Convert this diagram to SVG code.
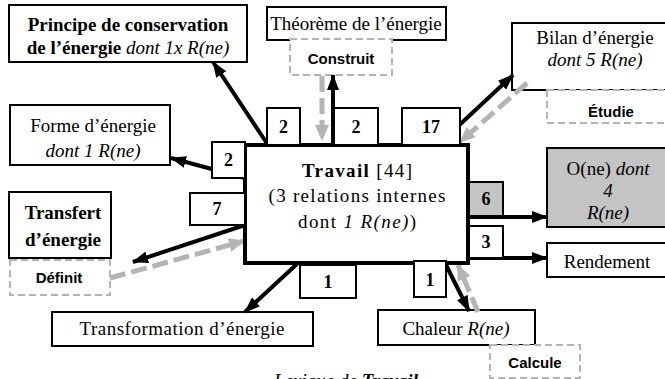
<svg xmlns="http://www.w3.org/2000/svg" width="665" height="379" viewBox="0 0 665 379">
<defs>
<style>
.box{fill:#fff;stroke:#000;stroke-width:2}
.gbox{fill:#c4c4c4;stroke:#000;stroke-width:2}
.dbox{fill:#fff;stroke:#b4b4b4;stroke-width:2;stroke-dasharray:7 4}
.main{fill:#fff;stroke:#000;stroke-width:4}
.t{font-family:"Liberation Serif","Times New Roman",serif;font-size:19px;fill:#000;text-anchor:middle}
.b{font-weight:bold}
.i{font-style:italic}
.num{font-family:"Liberation Serif","Times New Roman",serif;font-size:18px;font-weight:bold;fill:#000;text-anchor:middle}
.s{font-family:"Liberation Sans",Arial,sans-serif;font-size:15px;font-weight:bold;fill:#000;text-anchor:middle}
.k{fill:none;stroke:#000;stroke-width:4}
.g{fill:none;stroke:#b4b4b4;stroke-width:5;stroke-dasharray:16 6}
</style>
<marker id="ak" markerWidth="16" markerHeight="12" refX="15" refY="6" orient="auto" markerUnits="userSpaceOnUse"><path d="M0,0 L16,6 L0,12 z" fill="#000"/></marker>
<marker id="ag" markerWidth="16" markerHeight="14" refX="15" refY="7" orient="auto" markerUnits="userSpaceOnUse"><path d="M0,0 L16,7 L0,14 z" fill="#b4b4b4"/></marker>
</defs>
<rect width="665" height="379" fill="#fff"/>

<g id="principe"><rect class="box" x="9" y="5" width="238" height="57"/>
<text class="t b" x="128" y="31" font-size="18">Principe de conservation</text>
<text class="t b" x="128" y="54" font-size="18">de l’énergie <tspan class="i" font-weight="normal">dont 1x R(ne)</tspan></text></g>

<g id="theoreme"><rect class="box" x="267" y="7" width="179" height="33"/>
<text class="t" x="356" y="30" font-size="18">Théorème de l’énergie</text></g>

<g id="bilan"><rect class="box" x="512" y="23" width="166" height="67"/>
<text class="t" x="595" y="44" font-size="20">Bilan d’énergie</text>
<text class="t i" x="595" y="66" font-size="20">dont 5 R(ne)</text></g>

<g id="forme"><rect class="box" x="10" y="105" width="160" height="60"/>
<text class="t" x="93" y="132">Forme d’énergie</text>
<text class="t i" x="93" y="157">dont 1 R(ne)</text></g>

<g id="transfert"><rect class="box" x="9" y="192" width="102" height="66"/>
<text class="t b" x="63" y="219">Transfert</text>
<text class="t b" x="63" y="246">d’énergie</text></g>

<g id="one"><rect class="gbox" x="547" y="148" width="122" height="79"/>
<text class="t" x="608" y="175">O(ne) <tspan class="i">dont</tspan></text>
<text class="t i" x="608" y="197">4</text>
<text class="t i" x="608" y="219">R(ne)</text></g>

<g id="rendement"><rect class="box" x="547" y="243" width="122" height="34"/>
<text class="t" x="607" y="268">Rendement</text></g>

<g id="transformation"><rect class="box" x="52" y="312" width="261" height="34"/>
<text class="t" x="182" y="335" textLength="205" lengthAdjust="spacing">Transformation d’énergie</text></g>

<g id="chaleur"><rect class="box" x="378" y="310" width="157" height="35"/>
<text class="t" x="456" y="335">Chaleur <tspan class="i">R(ne)</tspan></text></g>

<g id="construit"><rect class="dbox" x="290" y="39" width="102" height="36"/>
<text class="s" x="341" y="64">Construit</text></g>

<g id="etudie"><rect class="dbox" x="547" y="90" width="130" height="33"/>
<text class="s" x="611" y="117">Étudie</text></g>

<g id="definit"><rect class="dbox" x="10" y="260" width="100" height="35"/>
<text class="s" x="59" y="283">Définit</text></g>

<g id="calcule"><rect class="dbox" x="490" y="345" width="90" height="33"/>
<text class="s" x="535" y="368" font-weight="normal" font-size="16">Calcule</text></g>

<g id="connectors">
<path class="k" d="M268,145 L213,62" marker-end="url(#ak)"/>
<path class="k" d="M333,145 L333,75" marker-end="url(#ak)"/>
<path class="g" d="M322,76 L322,140" marker-end="url(#ag)"/>
<path class="k" d="M438,145 L513,75" marker-end="url(#ak)"/>
<path class="g" d="M527,83 L460,142" marker-end="url(#ag)"/>
<path class="k" d="M245,178 L171,158" marker-end="url(#ak)"/>
<path class="k" d="M245,225 L133,262" marker-end="url(#ak)"/>
<path class="g" d="M110,278 L244,241" marker-end="url(#ag)"/>
<path class="k" d="M468,217 L547,217" marker-end="url(#ak)"/>
<path class="k" d="M468,258 L547,258" marker-end="url(#ak)"/>
<path class="k" d="M298,263 L245,312" marker-end="url(#ak)"/>
<path class="k" d="M445,263 L469,311" marker-end="url(#ak)"/>
<path class="g" d="M478,312 L458,265" marker-end="url(#ag)"/>
</g>

<g id="travail"><rect class="main" x="245" y="145" width="223" height="118"/>
<text class="t" x="357" y="177" font-size="22" textLength="110" lengthAdjust="spacing"><tspan class="b">Travail</tspan> [44]</text>
<text class="t" x="357" y="202" font-size="22" textLength="177" lengthAdjust="spacing">(3 relations internes</text>
<text class="t" x="357" y="228" font-size="22" textLength="118" lengthAdjust="spacing">dont <tspan class="i">1 R(ne)</tspan>)</text></g>

<g id="n-principe"><rect class="box" x="267" y="108" width="33" height="37"/><text class="num" x="283.5" y="133">2</text></g>
<g id="n-theoreme"><rect class="box" x="334" y="108" width="44" height="37"/><text class="num" x="356" y="133">2</text></g>
<g id="n-bilan"><rect class="box" x="402" y="108" width="58" height="37"/><text class="num" x="431" y="133">17</text></g>
<g id="n-forme"><rect class="box" x="212" y="142" width="33" height="36"/><text class="num" x="228.5" y="166">2</text></g>
<g id="n-transfert"><rect class="box" x="190" y="193" width="55" height="32"/><text class="num" x="217" y="215">7</text></g>
<g id="n-one"><rect class="gbox" x="469" y="182" width="34" height="34"/><text class="num" x="486" y="205">6</text></g>
<g id="n-rendement"><rect class="box" x="469" y="226" width="34" height="32"/><text class="num" x="486" y="248">3</text></g>
<g id="n-transformation"><rect class="box" x="300" y="265" width="56" height="33"/><text class="num" x="328" y="288">1</text></g>
<g id="n-chaleur"><rect class="box" x="414" y="261" width="32" height="36"/><text class="num" x="430" y="286">1</text></g>

<text class="t i" x="346" y="387" font-size="20">Lexique de <tspan class="b">Travail</tspan></text>
</svg>
